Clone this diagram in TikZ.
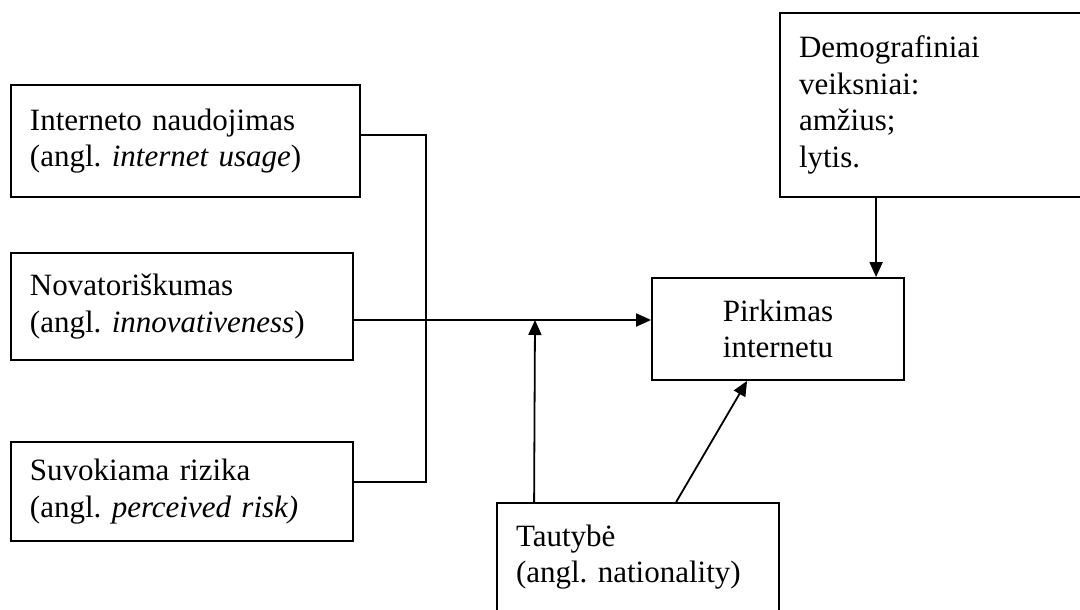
\documentclass[tikz,border=0pt]{standalone}
\usepackage{fontspec}
\setmainfont{Liberation Serif}
\usetikzlibrary{arrows.meta}
\frenchspacing

\begin{document}
\begin{tikzpicture}[x=1pt,y=-1pt,
  box/.style={draw,line width=1.8pt,align=left,inner xsep=19pt,inner ysep=0pt},
  arr/.style={line width=1.8pt,-{Triangle[length=15pt,width=13pt]}},
  font=\fontsize{31}{36.5}\selectfont]
  \useasboundingbox (0,0) rectangle (1080,610);

  \node[box,text width=311pt,minimum height=112pt] (usage) at (185.5,141)
    {Interneto naudojimas\\(angl. \textit{internet usage})};
  \node[box,text width=304pt,minimum height=107pt] (innov) at (182,306.5)
    {Novatoriškumas\\(angl. \textit{innovativeness})};
  \node[box,text width=304pt,minimum height=99pt] (risk) at (182,491.5)
    {Suvokiama rizika\\(angl. \textit{perceived risk)}};
  \node[box,align=center,text width=214pt,minimum height=102pt] (buy) at (778,329)
    {Pirkimas\\internetu};
  \node[box,text width=263pt,minimum height=184pt] (demo) at (930.5,105)
    {Demografiniai\\veiksniai:\\amžius;\\lytis.};
  \node[box,text width=244pt,minimum height=108pt] (nation) at (638,557)
    {Tautybė\\(angl. nationality)};

  \coordinate (meet) at (535,320);

  \draw[line width=1.8pt] ([yshift=6pt]usage.east) -- ++(65,0) |- ([yshift=9.5pt]risk.east);
  \draw[arr] ([yshift=-13.5pt]innov.east) -- ([yshift=-13.5pt]innov.east -| buy.west);
  \draw[arr] ([xshift=38pt]nation.north west) -- (meet);
  \draw[arr] ([xshift=180pt]nation.north west) -- ([xshift=96pt]buy.south west);
  \draw[arr] ([xshift=97pt]demo.south west) -- ([xshift=225pt]buy.north west);

\end{tikzpicture}
\end{document}
